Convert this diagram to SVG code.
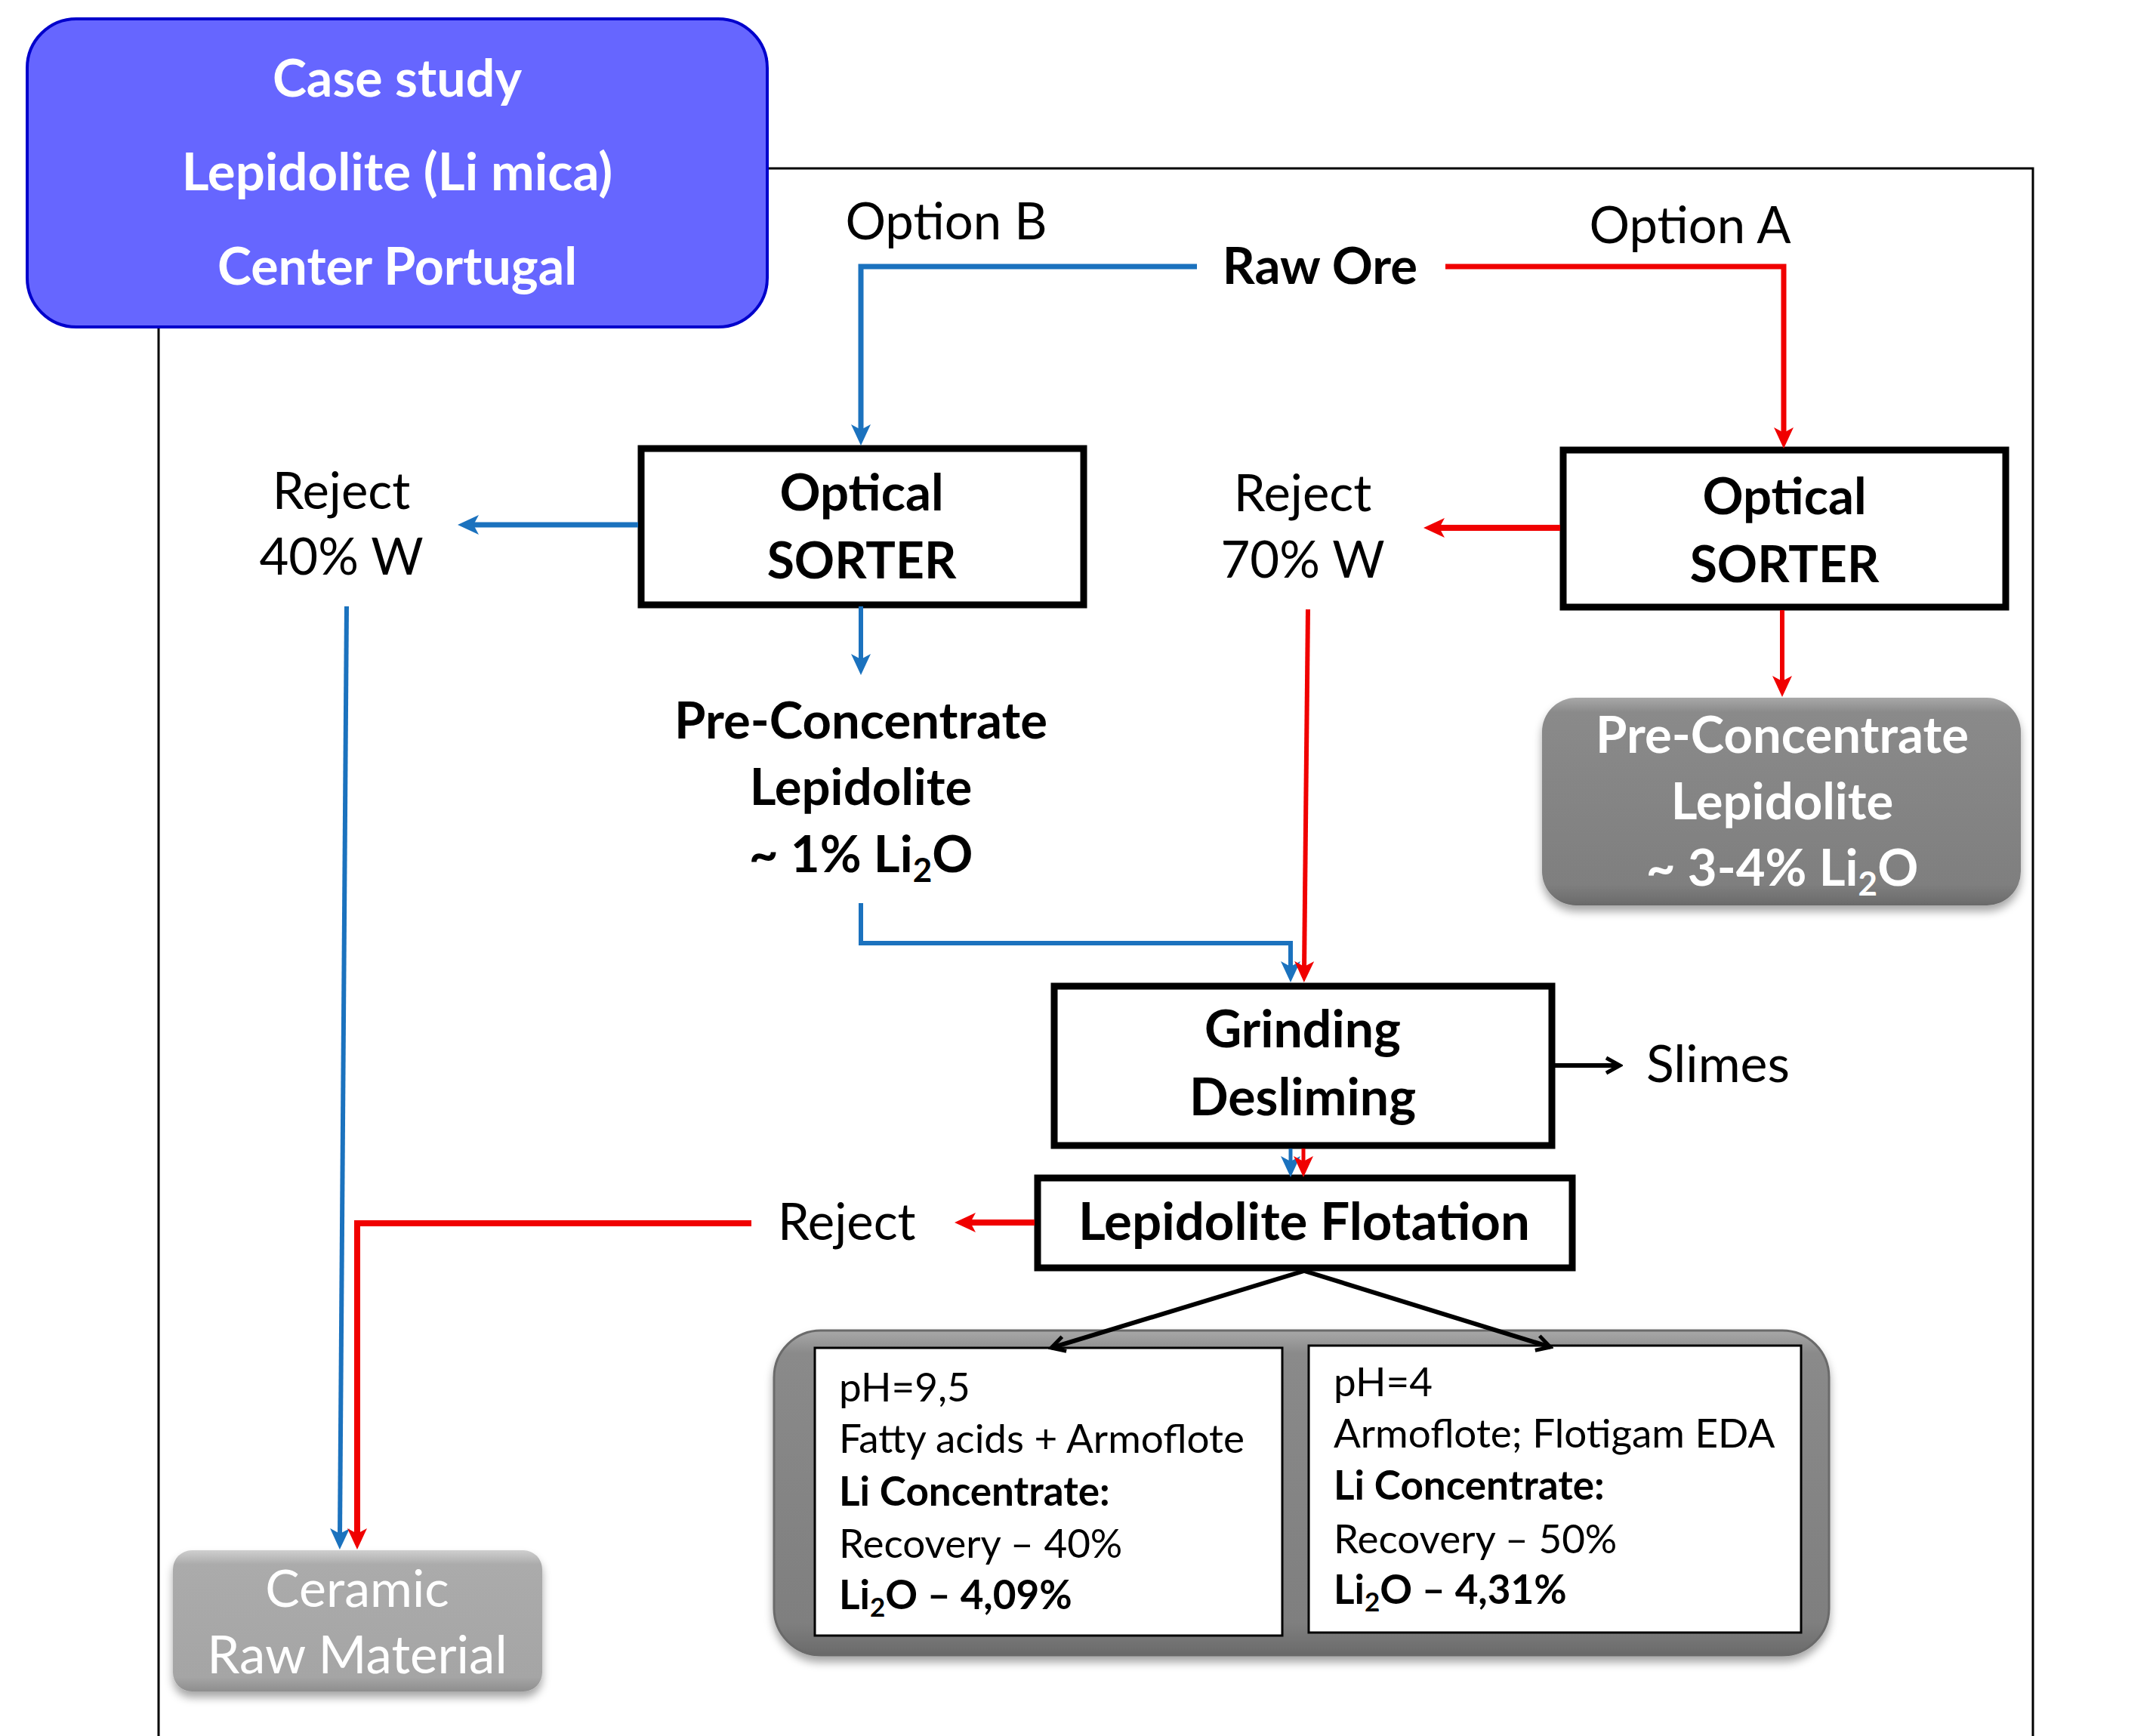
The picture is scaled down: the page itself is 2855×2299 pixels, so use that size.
<svg xmlns="http://www.w3.org/2000/svg" width="2855" height="2299" viewBox="0 0 2855 2299">
<style>
.t{font-family:Lato,"Open Sans","Liberation Sans",sans-serif;fill:#000}
.b{font-weight:bold}
.c{text-anchor:middle}
.L{font-size:67px}
.M{font-size:53px}
.w{fill:#fff}
.box{fill:#fff;stroke:#000;stroke-width:9}
.blue{fill:none;stroke:#1B72BE}
.red{fill:none;stroke:#F00000}
.blk{fill:none;stroke:#000}
</style>
<defs>
<marker id="ab" markerUnits="userSpaceOnUse" viewBox="0 0 28 26" markerWidth="28" markerHeight="26" refX="12" refY="13" orient="auto"><path d="M0,0 L28,13 L0,26 L7,13 Z" fill="#1B72BE"/></marker>
<marker id="ar" markerUnits="userSpaceOnUse" viewBox="0 0 28 26" markerWidth="28" markerHeight="26" refX="12" refY="13" orient="auto"><path d="M0,0 L28,13 L0,26 L7,13 Z" fill="#F00000"/></marker>
<marker id="ak" markerUnits="userSpaceOnUse" viewBox="0 0 26 26" markerWidth="26" markerHeight="26" refX="22" refY="13" orient="auto"><path d="M4,3 L22,13 L4,23" fill="none" stroke="#000" stroke-width="5"/></marker>
<linearGradient id="gDark" x1="0" y1="0" x2="0" y2="1"><stop offset="0" stop-color="#A8A8A8"/><stop offset="0.07" stop-color="#8A8A8A"/><stop offset="0.9" stop-color="#7F7F7F"/><stop offset="1" stop-color="#6A6A6A"/></linearGradient>
<linearGradient id="gLight" x1="0" y1="0" x2="0" y2="1"><stop offset="0" stop-color="#CFCFCF"/><stop offset="0.1" stop-color="#ABABAB"/><stop offset="0.9" stop-color="#A5A5A5"/><stop offset="1" stop-color="#8E8E8E"/></linearGradient>
<filter id="sh" x="-10%" y="-10%" width="120%" height="130%"><feDropShadow dx="0" dy="8" stdDeviation="6" flood-color="#000" flood-opacity="0.35"/></filter>
</defs>
<rect width="2855" height="2299" fill="#fff"/>
<g id="frame"><path d="M210,2299 V223 H2692 V2299" fill="none" stroke="#000" stroke-width="3"/></g>

<g id="title">
<rect x="36" y="25" width="980" height="408" rx="65" fill="#6666FF" stroke="#0000CC" stroke-width="4"/>
<text class="t b c w" font-size="68" x="526" y="128">Case study</text>
<text class="t b c w" font-size="69" x="526" y="252">Lepidolite (Li mica)</text>
<text class="t b c w" font-size="68" x="526" y="377">Center Portugal</text>
</g>

<g id="option-b"><text class="t c L" x="1253" y="317">Option B</text></g>
<g id="option-a"><text class="t c L" x="2238" y="322">Option A</text></g>
<g id="raw-ore"><text class="t b c L" x="1748" y="376">Raw Ore</text></g>

<g id="sorter-b">
<rect class="box" x="849" y="594" width="586" height="207"/>
<text class="t b c L" x="1141" y="676">Optical</text>
<text class="t b c" font-size="66" x="1141" y="766">SORTER</text>
</g>
<g id="sorter-a">
<rect class="box" x="2070" y="596" width="586" height="208"/>
<text class="t b c L" x="2363" y="681">Optical</text>
<text class="t b c" font-size="66" x="2363" y="771">SORTER</text>
</g>

<g id="reject-40">
<text class="t c L" x="452" y="674">Reject</text>
<text class="t c L" x="452" y="761">40% W</text>
</g>
<g id="reject-70">
<text class="t c L" x="1725" y="677">Reject</text>
<text class="t c L" x="1725" y="765">70% W</text>
</g>

<g id="preconc-b">
<text class="t b c L" x="1140" y="978">Pre-Concentrate</text>
<text class="t b c L" x="1140" y="1066">Lepidolite</text>
<text class="t b c L" x="1140" y="1155">~ 1% Li<tspan dy="13" font-size="44">2</tspan><tspan dy="-13">O</tspan></text>
</g>

<g id="preconc-a">
<rect x="2042" y="924" width="634" height="275" rx="45" fill="url(#gDark)" filter="url(#sh)"/>
<text class="t b c L w" x="2360" y="997">Pre-Concentrate</text>
<text class="t b c L w" x="2360" y="1085">Lepidolite</text>
<text class="t b c L w" x="2360" y="1173">~ 3-4% Li<tspan dy="13" font-size="44">2</tspan><tspan dy="-13">O</tspan></text>
</g>

<g id="grinding">
<rect class="box" x="1396" y="1306" width="659" height="211"/>
<text class="t b c" font-size="68" x="1725" y="1387">Grinding</text>
<text class="t b c" font-size="68" x="1725" y="1477">Desliming</text>
</g>
<g id="slimes"><text class="t" font-size="68" x="2180" y="1433">Slimes</text></g>

<g id="flotation">
<rect class="box" x="1374" y="1560" width="708" height="119"/>
<text class="t b c" font-size="69" x="1727" y="1642">Lepidolite Flotation</text>
</g>
<g id="reject-flot"><text class="t L" x="1030" y="1642">Reject</text></g>

<g id="ceramic">
<rect x="229" y="2053" width="489" height="187" rx="25" fill="url(#gLight)" filter="url(#sh)"/>
<text class="t c w" font-size="68" x="473" y="2128">Ceramic</text>
<text class="t c w" font-size="69" x="473" y="2216">Raw Material</text>
</g>

<g id="results">
<rect x="1025" y="1762" width="1397" height="430" rx="62" fill="url(#gDark)" stroke="#6A6A6A" stroke-width="3" filter="url(#sh)"/>
<g id="result-ph95">
<rect x="1079" y="1785" width="619" height="381" fill="#fff" stroke="#000" stroke-width="3"/>
<text class="t M" x="1111" y="1856">pH=9,5</text>
<text class="t M" x="1111" y="1924">Fatty acids + Armoflote</text>
<text class="t b M" x="1111" y="1994">Li Concentrate:</text>
<text class="t M" x="1111" y="2063">Recovery – 40%</text>
<text class="t b M" x="1111" y="2131">Li<tspan dy="10" font-size="35">2</tspan><tspan dy="-10">O – 4,09%</tspan></text>
</g>
<g id="result-ph4">
<rect x="1733" y="1782" width="652" height="380" fill="#fff" stroke="#000" stroke-width="3"/>
<text class="t M" x="1766" y="1849">pH=4</text>
<text class="t M" x="1766" y="1917">Armoflote; Flotigam EDA</text>
<text class="t b M" x="1766" y="1986">Li Concentrate:</text>
<text class="t M" x="1766" y="2057">Recovery – 50%</text>
<text class="t b M" x="1766" y="2124">Li<tspan dy="10" font-size="35">2</tspan><tspan dy="-10">O – 4,31%</tspan></text>
</g>
</g>

<g id="connectors">
<path class="blue" stroke-width="7" d="M1585,353 H1140 V574" marker-end="url(#ab)"/>
<path class="blue" stroke-width="7" d="M845,695 H622" marker-end="url(#ab)"/>
<path class="blue" stroke-width="6" d="M1140,803 V878" marker-end="url(#ab)"/>
<path class="blue" stroke-width="6" d="M1140,1196 V1249 H1709 V1285" marker-end="url(#ab)"/>
<path class="blue" stroke-width="6" d="M459,803 L450,2036" marker-end="url(#ab)"/>
<path class="blue" stroke-width="5" d="M1709,1521 V1543" marker-end="url(#ab)"/>
<path class="red" stroke-width="7" d="M1914,353 H2362 V578" marker-end="url(#ar)"/>
<path class="red" stroke-width="8" d="M2066,699 H1901" marker-end="url(#ar)"/>
<path class="red" stroke-width="6" d="M2360,808 V907" marker-end="url(#ar)"/>
<path class="red" stroke-width="6" d="M1732,807 L1727,1285" marker-end="url(#ar)"/>
<path class="red" stroke-width="5" d="M1726,1521 V1543" marker-end="url(#ar)"/>
<path class="red" stroke-width="8" d="M1370,1619 H1280" marker-end="url(#ar)"/>
<path class="red" stroke-width="8" d="M995,1620 H473 V2036" marker-end="url(#ar)"/>
<path class="blk" stroke-width="6" d="M2059,1411 H2145" marker-end="url(#ak)"/>
<path class="blk" stroke-width="6" d="M1727,1683 L1392,1785" marker-end="url(#ak)"/>
<path class="blk" stroke-width="6" d="M1727,1683 L2053,1784" marker-end="url(#ak)"/>
</g>
</svg>
